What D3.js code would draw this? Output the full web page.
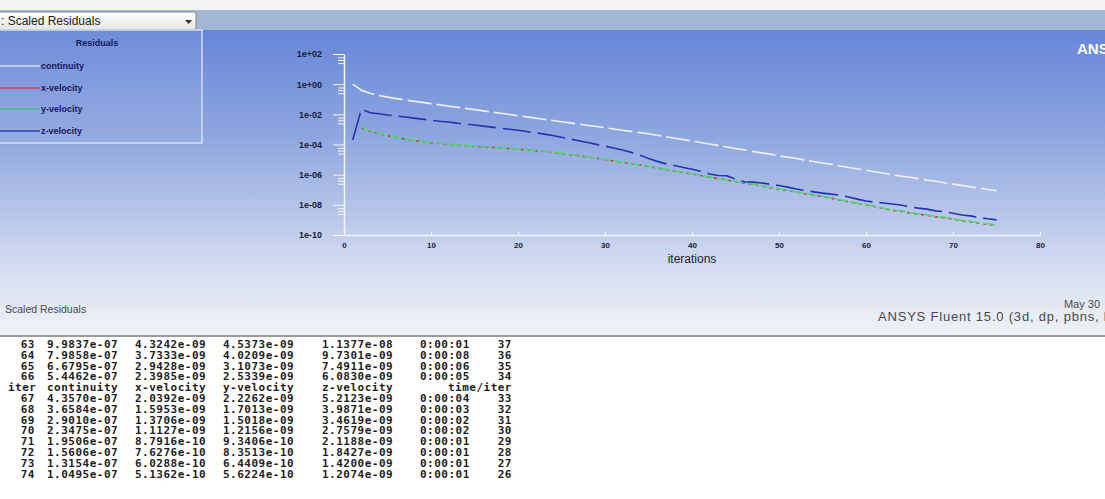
<!DOCTYPE html>
<html>
<head>
<meta charset="utf-8">
<script src="https://cdn.jsdelivr.net/npm/d3@7"></script>
<style>
  body { margin: 0; background: #fff; overflow: hidden; }
  svg { display: block; }
</style>
</head>
<body>
<div class="residuals"></div>
<script>
// residual history, one value per iteration (null = not written yet)
const iterations = [1, 2, 3, 4, 5, 6, 7, 8, 9, 10, 11, 12, 13, 14, 15, 16, 17, 18, 19, 20,
  21, 22, 23, 24, 25, 26, 27, 28, 29, 30, 31, 32, 33, 34, 35, 36, 37, 38, 39, 40,
  41, 42, 43, 44, 45, 46, 47, 48, 49, 50, 51, 52, 53, 54, 55, 56, 57, 58, 59, 60,
  61, 62, 63, 64, 65, 66, 67, 68, 69, 70, 71, 72, 73, 74, 75]

const continuity = [1.0e+00, 4.0e-01, 2.5e-01, 1.8e-01, 1.38e-01, 1.1e-01, 8.9e-02, 7.4e-02, 6.2e-02, 5.1e-02,
  4.3e-02, 3.5e-02, 2.95e-02, 2.45e-02, 2.04e-02, 1.7e-02, 1.41e-02, 1.17e-02, 9.8e-03, 8.1e-03,
  6.8e-03, 5.6e-03, 4.7e-03, 3.9e-03, 3.2e-03, 2.7e-03, 2.24e-03, 1.86e-03, 1.55e-03, 1.29e-03,
  1.07e-03, 8.9e-04, 7.4e-04, 6.2e-04, 5.1e-04, 4.1e-04, 3.3e-04, 2.6e-04, 2.1e-04, 1.7e-04,
  1.35e-04, 1.07e-04, 8.7e-05, 6.9e-05, 5.5e-05, 4.5e-05, 3.5e-05, 2.8e-05, 2.3e-05, 1.8e-05,
  1.45e-05, 1.17e-05, 9.3e-06, 7.4e-06, 5.9e-06, 4.8e-06, 3.8e-06, 3.0e-06, 2.45e-06, 1.95e-06,
  1.55e-06, 1.26e-06, 9.9837e-07, 7.9858e-07, 6.6795e-07, 5.4462e-07, 4.3570e-07, 3.6584e-07, 2.9010e-07, 2.3475e-07,
  1.9506e-07, 1.5606e-07, 1.3154e-07, 1.0495e-07, 8.6e-08]

const xVelocity = [null, 1.3e-03, 7.9e-04, 5.2e-04, 3.8e-04, 2.9e-04, 2.3e-04, 1.86e-04, 1.55e-04, 1.32e-04,
  1.15e-04, 1.02e-04, 9.3e-05, 8.5e-05, 7.8e-05, 7.1e-05, 6.5e-05, 5.9e-05, 5.4e-05, 4.9e-05,
  4.4e-05, 3.9e-05, 3.4e-05, 2.95e-05, 2.5e-05, 2.14e-05, 1.78e-05, 1.48e-05, 1.23e-05, 1.0e-05,
  8.1e-06, 6.6e-06, 5.4e-06, 4.4e-06, 3.5e-06, 2.75e-06, 2.2e-06, 1.74e-06, 1.38e-06, 1.1e-06,
  8.7e-07, 6.9e-07, 5.5e-07, 4.4e-07, 3.5e-07, 2.75e-07, 2.2e-07, 1.74e-07, 1.38e-07, 1.1e-07,
  8.7e-08, 6.9e-08, 5.5e-08, 4.4e-08, 3.5e-08, 2.75e-08, 2.1e-08, 1.58e-08, 1.23e-08, 9.8e-09,
  7.6e-09, 5.8e-09, 4.3242e-09, 3.7333e-09, 2.9428e-09, 2.3985e-09, 2.0392e-09, 1.5953e-09, 1.3706e-09, 1.1127e-09,
  8.7916e-10, 7.6276e-10, 6.0288e-10, 5.1362e-10, 4.2e-10]

const yVelocity = [null, 1.45e-03, 8.5e-04, 5.6e-04, 4.0e-04, 3.0e-04, 2.4e-04, 1.95e-04, 1.62e-04, 1.38e-04,
  1.2e-04, 1.06e-04, 9.6e-05, 8.8e-05, 8.1e-05, 7.4e-05, 6.7e-05, 6.1e-05, 5.6e-05, 5.1e-05,
  4.6e-05, 4.1e-05, 3.6e-05, 3.1e-05, 2.65e-05, 2.25e-05, 1.88e-05, 1.56e-05, 1.3e-05, 1.06e-05,
  8.6e-06, 7.0e-06, 5.7e-06, 4.6e-06, 3.7e-06, 2.9e-06, 2.3e-06, 1.82e-06, 1.45e-06, 1.16e-06,
  9.2e-07, 7.3e-07, 5.8e-07, 4.6e-07, 3.7e-07, 2.9e-07, 2.3e-07, 1.83e-07, 1.45e-07, 1.16e-07,
  9.2e-08, 7.3e-08, 5.8e-08, 4.6e-08, 3.7e-08, 2.9e-08, 2.2e-08, 1.68e-08, 1.3e-08, 1.03e-08,
  8.0e-09, 6.1e-09, 4.5373e-09, 4.0209e-09, 3.1073e-09, 2.5339e-09, 2.2262e-09, 1.7013e-09, 1.5018e-09, 1.2156e-09,
  9.3406e-10, 8.3513e-10, 6.4409e-10, 5.6224e-10, 4.6e-10]

const zVelocity = [2.0e-04, 2.2e-02, 1.26e-02, 1.1e-02, 9.1e-03, 7.8e-03, 6.6e-03, 5.6e-03, 4.8e-03, 4.1e-03,
  3.5e-03, 3.1e-03, 2.6e-03, 2.3e-03, 1.95e-03, 1.66e-03, 1.41e-03, 1.2e-03, 1.02e-03, 8.7e-04,
  7.2e-04, 6.0e-04, 4.9e-04, 3.9e-04, 3.0e-04, 2.3e-04, 1.78e-04, 1.35e-04, 1.02e-04, 7.8e-05,
  5.8e-05, 4.3e-05, 3.0e-05, 2.0e-05, 1.2e-05, 7.6e-06, 5.2e-06, 4.0e-06, 3.0e-06, 2.3e-06,
  1.66e-06, 1.12e-06, 8.9e-07, 8.5e-07, 5.0e-07, 3.4e-07, 3.2e-07, 2.8e-07, 2.3e-07, 1.9e-07,
  1.5e-07, 1.12e-07, 8.9e-08, 7.2e-08, 6.0e-08, 5.1e-08, 4.4e-08, 3.3e-08, 2.4e-08, 1.8e-08,
  1.5e-08, 1.32e-08, 1.1377e-08, 9.7301e-09, 7.4911e-09, 6.0830e-09, 5.2123e-09, 3.9871e-09, 3.4619e-09, 2.7579e-09,
  2.1188e-09, 1.8427e-09, 1.4200e-09, 1.2074e-09, 1.0e-09]

const seriesNames = ["continuity", "x-velocity", "y-velocity", "z-velocity"]

const xTickValues = [0, 10, 20, 30, 40, 50, 60, 70, 80]
const yTickValues = [1e2, 1e0, 1e-2, 1e-4, 1e-6, 1e-8, 1e-10]
const yTickLabels = ["1e+02", "1e+00", "1e-02", "1e-04", "1e-06", "1e-08", "1e-10"]

// console output under the plot
const tableHeader = ["iter", "continuity", "x-velocity", "y-velocity", "z-velocity", "time/iter"]
const tableIter = ["63", "64", "65", "66", "67", "68", "69", "70", "71", "72", "73", "74"]
const tableContinuity = ["9.9837e-07", "7.9858e-07", "6.6795e-07", "5.4462e-07", "4.3570e-07", "3.6584e-07",
  "2.9010e-07", "2.3475e-07", "1.9506e-07", "1.5606e-07", "1.3154e-07", "1.0495e-07"]
const tableXVel = ["4.3242e-09", "3.7333e-09", "2.9428e-09", "2.3985e-09", "2.0392e-09", "1.5953e-09",
  "1.3706e-09", "1.1127e-09", "8.7916e-10", "7.6276e-10", "6.0288e-10", "5.1362e-10"]
const tableYVel = ["4.5373e-09", "4.0209e-09", "3.1073e-09", "2.5339e-09", "2.2262e-09", "1.7013e-09",
  "1.5018e-09", "1.2156e-09", "9.3406e-10", "8.3513e-10", "6.4409e-10", "5.6224e-10"]
const tableZVel = ["1.1377e-08", "9.7301e-09", "7.4911e-09", "6.0830e-09", "5.2123e-09", "3.9871e-09",
  "3.4619e-09", "2.7579e-09", "2.1188e-09", "1.8427e-09", "1.4200e-09", "1.2074e-09"]
const tableTime = ["0:00:01", "0:00:08", "0:00:06", "0:00:05", "0:00:04", "0:00:03",
  "0:00:02", "0:00:02", "0:00:01", "0:00:01", "0:00:01", "0:00:01"]
const tableLeft = ["37", "36", "35", "34", "33", "32", "31", "30", "29", "28", "27", "26"]

function residualsPlot() {
  const width = 1105
  const height = 499

  const svg = d3.select(".residuals").append("svg")
    .attr("width", width)
    .attr("height", height)

  const defs = svg.append("defs")
  const grad = defs.append("linearGradient")
    .attr("id", "bg")
    .attr("x1", 0).attr("y1", 0).attr("x2", 0).attr("y2", 1)
  grad.append("stop").attr("offset", "0%").attr("stop-color", "#6686d8")
  grad.append("stop").attr("offset", "35%").attr("stop-color", "#8fa7e0")
  grad.append("stop").attr("offset", "75%").attr("stop-color", "#cfd9ef")
  grad.append("stop").attr("offset", "100%").attr("stop-color", "#f1f3f7")

  const ddGrad = defs.append("linearGradient")
    .attr("id", "dd")
    .attr("x1", 0).attr("y1", 0).attr("x2", 0).attr("y2", 1)
  ddGrad.append("stop").attr("offset", "0%").attr("stop-color", "#ffffff")
  ddGrad.append("stop").attr("offset", "100%").attr("stop-color", "#e4e4e4")

  defs.append("clipPath").attr("id", "console")
    .append("rect").attr("x", 0).attr("y", 337).attr("width", width).attr("height", 141)

  // window chrome
  svg.append("rect").attr("width", width).attr("height", 10).attr("fill", "#f3f3f3")
  svg.append("rect").attr("y", 10).attr("width", width).attr("height", 20).attr("fill", "#a2b7d3")
  svg.append("rect").attr("y", 30).attr("width", width).attr("height", 306).attr("fill", "url(#bg)")

  svg.append("rect")
    .attr("x", -2).attr("y", 12).attr("width", 198).attr("height", 18).attr("rx", 2)
    .attr("fill", "url(#dd)").attr("stroke", "#8a8a8a")
  svg.append("text")
    .attr("x", 1).attr("y", 25)
    .style("font-family", "Liberation Sans")
    .style("font-size", "12px")
    .attr("fill", "#222")
    .text(": Scaled Residuals")
  svg.append("path").attr("d", "M185,20 L192,20 L188.5,24 Z").attr("fill", "#333")

  // legend box
  svg.append("rect")
    .attr("x", -2).attr("y", 30).attr("width", 204).attr("height", 113)
    .attr("fill", "#ffffff").attr("fill-opacity", 0.06)
    .attr("stroke", "#d4ddf3").attr("stroke-width", 1.5)

  const legendColor = ["#d6dcec", "#d8405a", "#3cc680", "#2c3cb4"]
  const lineColor = ["#eef0f8", "#b8402c", "#55d27c", "#2234b0"]
  const lineDash = ["24,5", "3,4", "12,3", "28,7"]

  svg.append("text")
    .attr("x", 97).attr("y", 46)
    .style("text-anchor", "middle")
    .style("font-family", "Liberation Sans")
    .style("font-size", "9px")
    .style("font-weight", "bold")
    .attr("fill", "#16185a")
    .text("Residuals")

  const legendRows = svg.selectAll(".legend-row")
    .data(seriesNames)
    .enter()
    .append("g")
    .attr("class", "legend-row")
    .attr("transform", function(d, i) { return "translate(0," + [66, 88, 109, 131][i] + ")" })

  legendRows.append("line")
    .attr("x1", 0).attr("x2", 40)
    .attr("stroke", function(d, i) { return legendColor[i] })
    .attr("stroke-width", 1.5)

  legendRows.append("text")
    .attr("x", 41).attr("dy", "0.35em")
    .style("font-family", "Liberation Sans")
    .style("font-size", "9px")
    .style("font-weight", "bold")
    .attr("fill", "#16185a")
    .text(function(d) { return d })

  // scales
  const x = d3.scaleLinear().domain([0, 80]).range([344, 1040])
  const y = d3.scaleLog().domain([1e-10, 1e2]).range([235, 54])

  // minor ticks below every labelled decade
  const minorTicks = []
  yTickValues.slice(0, -1).forEach(function(v) {
    minorTicks.push(v * 0.6, v * 0.4, v * 0.25)
  })

  const minorAxis = svg.append("g")
    .attr("transform", "translate(344,0)")
    .call(d3.axisLeft(y).tickValues(minorTicks).tickSize(6).tickSizeOuter(0).tickFormat(""))
  minorAxis.select(".domain").remove()
  minorAxis.selectAll("line").attr("stroke", "#f4f6fb").attr("stroke-width", 1)

  const yAxis = svg.append("g")
    .attr("transform", "translate(344,0)")
    .call(d3.axisLeft(y)
      .tickValues(yTickValues)
      .tickSize(11)
      .tickSizeOuter(0)
      .tickPadding(11)
      .tickFormat(function(d, i) { return yTickLabels[i] }))
  yAxis.select(".domain").attr("stroke", "#f4f6fb").attr("stroke-width", 1.5)
  yAxis.selectAll("line").attr("stroke", "#f4f6fb").attr("stroke-width", 1)
  yAxis.selectAll("text")
    .style("font-family", "Liberation Sans")
    .style("font-size", "9px")
    .style("font-weight", "bold")
    .attr("fill", "#1a1c3c")

  const xAxis = svg.append("g")
    .attr("transform", "translate(0,235)")
    .call(d3.axisBottom(x)
      .tickValues(xTickValues)
      .tickSize(-3)
      .tickSizeOuter(0)
      .tickPadding(7))
  xAxis.select(".domain").attr("stroke", "#f4f6fb").attr("stroke-width", 1.5)
  xAxis.selectAll("line").attr("stroke", "#f4f6fb")
  xAxis.selectAll("text")
    .style("font-family", "Liberation Sans")
    .style("font-size", "8px")
    .style("font-weight", "bold")
    .attr("fill", "#1a1c3c")

  svg.append("text")
    .attr("x", 692).attr("y", 263)
    .style("text-anchor", "middle")
    .style("font-family", "Liberation Sans")
    .style("font-size", "12px")
    .attr("fill", "#22243a")
    .text("iterations")

  // residual curves
  const allSeries = [continuity, xVelocity, yVelocity, zVelocity]
  const line = d3.line()
    .defined(function(d) { return d.v != null })
    .x(function(d) { return x(d.it) })
    .y(function(d) { return y(d.v) })

  svg.selectAll(".residual")
    .data(allSeries)
    .enter()
    .append("path")
    .attr("class", "residual")
    .attr("d", function(s) {
      return line(iterations.map(function(it, i) { return { it: it, v: s[i] } }))
    })
    .attr("fill", "none")
    .attr("stroke", function(d, i) { return lineColor[i] })
    .attr("stroke-width", 1.6)
    .attr("stroke-dasharray", function(d, i) { return lineDash[i] })

  svg.append("text")
    .attr("x", 1077).attr("y", 54)
    .style("font-family", "Liberation Sans")
    .style("font-size", "15px")
    .style("font-weight", "bold")
    .attr("fill", "#ffffff")
    .text("ANSYS")

  // footer of the graphics window
  svg.append("text")
    .attr("x", 5).attr("y", 313)
    .style("font-family", "Liberation Sans")
    .style("font-size", "10.5px")
    .attr("fill", "#4a4a4a")
    .text("Scaled Residuals")

  svg.append("text")
    .attr("x", 1100).attr("y", 308)
    .style("text-anchor", "end")
    .style("font-family", "Liberation Sans")
    .style("font-size", "11px")
    .attr("fill", "#4a4a4a")
    .text("May 30")

  svg.append("text")
    .attr("x", 878).attr("y", 321)
    .style("font-family", "Liberation Sans")
    .style("font-size", "13px")
    .style("letter-spacing", "0.8px")
    .attr("fill", "#4a4a4a")
    .text("ANSYS Fluent 15.0 (3d, dp, pbns, lam)")

  // console
  svg.append("rect").attr("y", 336).attr("width", width).attr("height", height - 336).attr("fill", "#ffffff")
  svg.append("line").attr("x1", 0).attr("x2", width).attr("y1", 336).attr("y2", 336)
    .attr("stroke", "#9c9c9c").attr("stroke-width", 2)

  const rows = []
  tableIter.forEach(function(it, i) {
    if (it === "67") rows.push({ header: true, cells: tableHeader })
    rows.push({ header: false, cells: [it, tableContinuity[i], tableXVel[i], tableYVel[i], tableZVel[i], tableTime[i], tableLeft[i]] })
  })

  const colStart = [47, 135, 223, 322, 420]
  const monoStyle = function(sel) {
    sel.style("font-family", "DejaVu Sans Mono")
      .style("font-size", "11px")
      .style("font-weight", "bold")
      .style("letter-spacing", "0.5px")
      .attr("fill", "#1e1e1e")
  }

  const consoleG = svg.append("g").attr("clip-path", "url(#console)")

  const rowG = consoleG.selectAll(".trow")
    .data(rows)
    .enter()
    .append("g")
    .attr("class", "trow")
    .attr("transform", function(d, i) { return "translate(0," + (348 + i * 10.8) + ")" })

  rowG.each(function(d) {
    const g = d3.select(this)
    if (d.header) {
      g.append("text").attr("x", 8).text(d.cells[0]).call(monoStyle)
      d.cells.slice(1, 5).forEach(function(c, j) {
        g.append("text").attr("x", colStart[j]).text(c).call(monoStyle)
      })
      g.append("text").attr("x", 512).style("text-anchor", "end").text(d.cells[5]).call(monoStyle)
    } else {
      g.append("text").attr("x", 35).style("text-anchor", "end").text(d.cells[0]).call(monoStyle)
      d.cells.slice(1, 6).forEach(function(c, j) {
        g.append("text").attr("x", colStart[j]).text(c).call(monoStyle)
      })
      g.append("text").attr("x", 512).style("text-anchor", "end").text(d.cells[6]).call(monoStyle)
    }
  })
}

residualsPlot()
</script>
</body>
</html>
